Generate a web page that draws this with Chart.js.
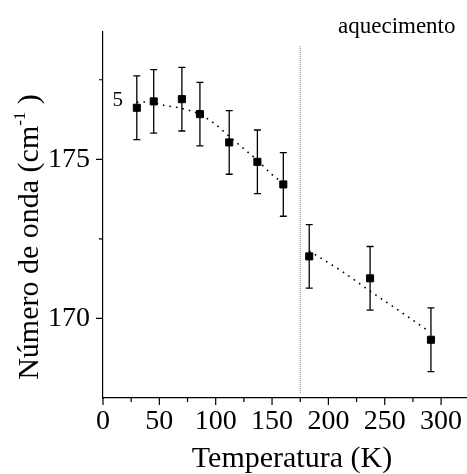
<!DOCTYPE html>
<html><head><meta charset="utf-8">
<script src="https://cdn.jsdelivr.net/npm/chart.js@4"></script>
<style>html,body{margin:0;padding:0;background:#fff}canvas{display:block}</style>
</head><body>
<canvas id="c" width="467" height="474"></canvas>
<script>
// ---- data ----
const temperatures = [30, 45, 70, 86, 112, 137, 160, 183, 237, 291];
const wavenumbers  = [176.62, 176.82, 176.89, 176.42, 175.53, 174.92, 174.21, 171.95, 171.26, 169.33];
const errors       = [1.0, 1.0, 1.0, 1.0, 1.0, 1.0, 1.0, 1.0, 1.0, 1.0];
const fitLowT  = [30, 40, 55, 71, 86, 99, 112, 125, 137, 149, 160];
const fitLowV  = [176.80, 176.80, 176.69, 176.59, 176.41, 176.12, 175.72, 175.33, 174.97, 174.55, 174.24];
const fitHighT = [183, 212, 237, 267, 289];
const fitHighV = [172.12, 171.48, 170.86, 170.14, 169.60];
const transitionT = [175, 175];
const transitionV = [167.66, 178.58];
const xMajorTicks = [0, 50, 100, 150, 200, 250, 300];
const xMinorTicks = [25, 75, 125, 175, 225, 275];
const yMajorTicks = [170, 175];
const yMinorTicks = [172.5, 177.5];
const xTitle = 'Temperatura (K)';
const yTitleMain = 'Número de onda (cm';
const yTitleSup = '-1';
const yTitleEnd = ' )';
const annotationText = 'aquecimento';
const seriesLabel = '5';

const SERIF = '"Liberation Serif", "Times New Roman", serif';

const toPts = (xs, ys) => xs.map((x, i) => ({x: x, y: ys[i]}));

const decor = {
  id: 'decor',
  beforeDatasetsDraw(chart) {
    const {ctx, scales: {x, y}} = chart;
    ctx.save();
    ctx.strokeStyle = '#000';
    ctx.lineWidth = 1.3;
    temperatures.forEach((t, i) => {
      const px = x.getPixelForValue(t);
      const top = y.getPixelForValue(wavenumbers[i] + errors[i]);
      const bot = y.getPixelForValue(wavenumbers[i] - errors[i]);
      ctx.beginPath();
      ctx.moveTo(px, top); ctx.lineTo(px, bot);
      ctx.moveTo(px - 3.5, top); ctx.lineTo(px + 3.5, top);
      ctx.moveTo(px - 3.5, bot); ctx.lineTo(px + 3.5, bot);
      ctx.stroke();
    });
    ctx.restore();
  },
  afterDraw(chart) {
    const {ctx, scales: {x, y}, chartArea} = chart;
    ctx.save();
    ctx.strokeStyle = '#000';
    ctx.lineWidth = 1.2;
    const axY = chartArea.bottom, axX = chartArea.left;
    ctx.beginPath();
    xMajorTicks.forEach(v => { const p = x.getPixelForValue(v); ctx.moveTo(p, axY); ctx.lineTo(p, axY + 7); });
    xMinorTicks.forEach(v => { const p = x.getPixelForValue(v); ctx.moveTo(p, axY); ctx.lineTo(p, axY + 4); });
    yMajorTicks.forEach(v => { const p = y.getPixelForValue(v); ctx.moveTo(axX, p); ctx.lineTo(axX - 7, p); });
    yMinorTicks.forEach(v => { const p = y.getPixelForValue(v); ctx.moveTo(axX, p); ctx.lineTo(axX - 4, p); });
    ctx.stroke();

    ctx.fillStyle = '#000';
    // x title
    ctx.font = '30px ' + SERIF;
    ctx.textAlign = 'center';
    ctx.textBaseline = 'alphabetic';
    ctx.fillText(xTitle, 292, 467);

    // y title (rotated, with superscript)
    ctx.save();
    ctx.translate(38, 237);
    ctx.rotate(-Math.PI / 2);
    ctx.textAlign = 'left';
    ctx.font = '30px ' + SERIF;
    const w1 = ctx.measureText(yTitleMain).width;
    const w3 = ctx.measureText(yTitleEnd).width;
    ctx.font = '17px ' + SERIF;
    const w2 = ctx.measureText(yTitleSup).width;
    const x0 = -(w1 + w2 + w3) / 2;
    ctx.font = '30px ' + SERIF;
    ctx.fillText(yTitleMain, x0, 0);
    ctx.font = '17px ' + SERIF;
    ctx.fillText(yTitleSup, x0 + w1, -13);
    ctx.font = '30px ' + SERIF;
    ctx.fillText(yTitleEnd, x0 + w1 + w2, 0);
    ctx.restore();

    // annotations
    ctx.font = '23px ' + SERIF;
    ctx.textAlign = 'left';
    ctx.fillText(annotationText, 338, 33);
    ctx.font = '21px ' + SERIF;
    ctx.fillText(seriesLabel, 112.5, 106);
    ctx.restore();
  }
};

new Chart(document.getElementById('c'), {
  type: 'scatter',
  data: {
    datasets: [
      { data: toPts(temperatures, wavenumbers), pointStyle: 'rect', pointRadius: 5, pointBackgroundColor: '#000', pointBorderColor: '#000', pointBorderWidth: 1, showLine: false, order: 0 },
      { data: toPts(fitLowT, fitLowV), showLine: true, pointRadius: 0, borderColor: '#000', borderWidth: 1.6, borderDash: [1.6, 5], cubicInterpolationMode: 'monotone', order: 1 },
      { data: toPts(fitHighT, fitHighV), showLine: true, pointRadius: 0, borderColor: '#000', borderWidth: 1.6, borderDash: [1.6, 5], cubicInterpolationMode: 'monotone', order: 1 },
      { data: toPts(transitionT, transitionV), showLine: true, pointRadius: 0, borderColor: '#8a8a8a', borderWidth: 1, borderDash: [1, 1], order: 2 }
    ]
  },
  options: {
    responsive: false,
    animation: false,
    devicePixelRatio: 1,
    layout: { autoPadding: false, padding: { top: 32, right: 0, left: 0, bottom: 0 } },
    plugins: { legend: { display: false }, tooltip: { enabled: false } },
    scales: {
      x: {
        type: 'linear', min: 0, max: 323,
        afterFit: s => { s.height = 76; s.paddingLeft = 0; s.paddingRight = 0; },
        afterBuildTicks: s => { s.ticks = xMajorTicks.map(v => ({value: v})); },
        grid: { display: false, drawTicks: false },
        border: { display: true, color: '#000', width: 1.2 },
        ticks: { autoSkip: false, maxRotation: 0, padding: 7, color: '#000', font: { family: SERIF, size: 28 } }
      },
      y: {
        type: 'linear', min: 167.5, max: 179,
        afterFit: s => { s.width = 103; s.paddingTop = 0; s.paddingBottom = 0; },
        afterBuildTicks: s => { s.ticks = yMajorTicks.map(v => ({value: v})); },
        grid: { display: false, drawTicks: false },
        border: { display: true, color: '#000', width: 1.2 },
        ticks: { padding: 13, color: '#000', font: { family: SERIF, size: 28 } }
      }
    }
  },
  plugins: [decor]
});
</script>
</body></html>
